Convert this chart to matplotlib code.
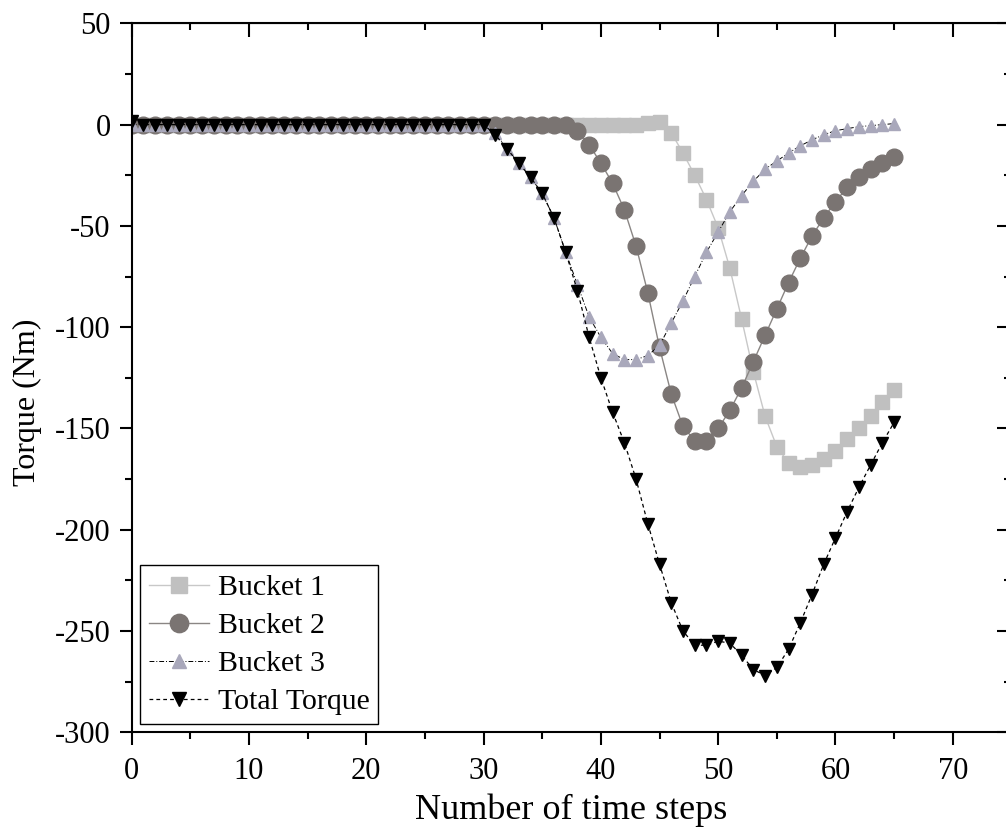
import numpy as np
import matplotlib
matplotlib.use('Agg')
import matplotlib.pyplot as plt
from matplotlib.ticker import MultipleLocator

# Data
steps = np.arange(0, 66)

bucket1 = [0] * 44 + [1, 1.5, -4, -14, -25, -37, -51, -71, -96, -122, -144, -159,
                      -167, -169, -168, -165, -161, -155, -150, -144, -137, -131]

bucket2 = [0] * 38 + [-3, -10, -19, -29, -42, -60, -83, -110, -133, -149, -156, -156,
                      -150, -141, -130, -117, -104, -91, -78, -66, -55, -46, -38, -31,
                      -26, -22, -19, -16]

bucket3 = [0] * 31 + [-4, -12, -19, -26, -34, -46, -63, -79, -95, -105, -113, -116,
                      -116, -114, -109, -98, -87, -75, -63, -53, -43, -35, -28, -22,
                      -18, -14, -10.5, -7.5, -5, -3, -2, -1, -0.5, 0, 0.5]

total = [2] + [0] * 30 + [-5, -12, -19, -26, -34, -46, -63, -82, -105, -125, -142, -157,
                          -175, -197, -217, -236, -250, -257, -257, -255, -256, -262,
                          -269, -272, -268, -259, -246, -232, -217, -204, -191, -179,
                          -168, -157, -147]

plt.rcParams['font.family'] = ['Liberation Serif', 'DejaVu Serif']
plt.rcParams['axes.unicode_minus'] = False

fig = plt.figure(figsize=(10.06, 8.27), dpi=100)
ax = fig.add_axes([0.1309, 0.1145, 0.8745, 0.8573])

ax.plot(steps, bucket1, color='#c8c8c8', lw=1.0, marker='s', ms=10.5,
        mfc='#c0c0c0', mec='#c0c0c0', label='Bucket 1')
ax.plot(steps, bucket2, color='#8a8684', lw=1.0, marker='o', ms=12,
        mfc='#7a7472', mec='#7a7472', label='Bucket 2')
ax.plot(steps, bucket3, color='black', lw=0.7, ls=(0, (5, 2, 1, 2)), marker='^', ms=9,
        mfc='#a9a8bb', mec='#a9a8bb', label='Bucket 3')
ax.plot(steps, total, color='black', lw=0.9, ls=(0, (3, 2.5)), marker='v', ms=9,
        mfc='black', mec='black', label='Total Torque')

ax.set_xlim(0, 75)
ax.set_ylim(-300, 50)
ax.xaxis.set_major_locator(MultipleLocator(10))
ax.xaxis.set_minor_locator(MultipleLocator(5))
ax.yaxis.set_major_locator(MultipleLocator(50))
ax.yaxis.set_minor_locator(MultipleLocator(25))

ax.tick_params(which='major', direction='out', length=9, width=1.5, labelsize=22)
ax.tick_params(which='minor', direction='out', length=5, width=1.5)
ax.tick_params(axis='x', which='major', pad=9)
ax.tick_params(axis='y', which='major', pad=6)
for s in ax.spines.values():
    s.set_linewidth(1.5)

# inward ticks on top and right
top = ax.secondary_xaxis('top')
top.xaxis.set_major_locator(MultipleLocator(10))
top.xaxis.set_minor_locator(MultipleLocator(5))
top.tick_params(which='major', direction='in', length=10, width=1.5, labeltop=False)
top.tick_params(which='minor', direction='in', length=5, width=1.5)
right = ax.secondary_yaxis('right')
right.yaxis.set_major_locator(MultipleLocator(50))
right.yaxis.set_minor_locator(MultipleLocator(25))
right.tick_params(which='major', direction='in', length=10, width=1.5, labelright=False)
right.tick_params(which='minor', direction='in', length=5, width=1.5)

ax.set_xlabel('Number of time steps', fontsize=26, labelpad=5)
ax.set_ylabel('Torque (Nm)', fontsize=23)
ax.yaxis.set_label_coords(-0.102, 0.465)

leg = ax.legend(loc='lower left', fontsize=21.5, fancybox=False, framealpha=1,
                edgecolor='black', borderaxespad=0.28, borderpad=0.3,
                handlelength=2.0, handletextpad=0.3, labelspacing=0.37,
                markerscale=1.1)
leg.get_frame().set_linewidth(1.0)

plt.savefig('out.png', dpi=100)
